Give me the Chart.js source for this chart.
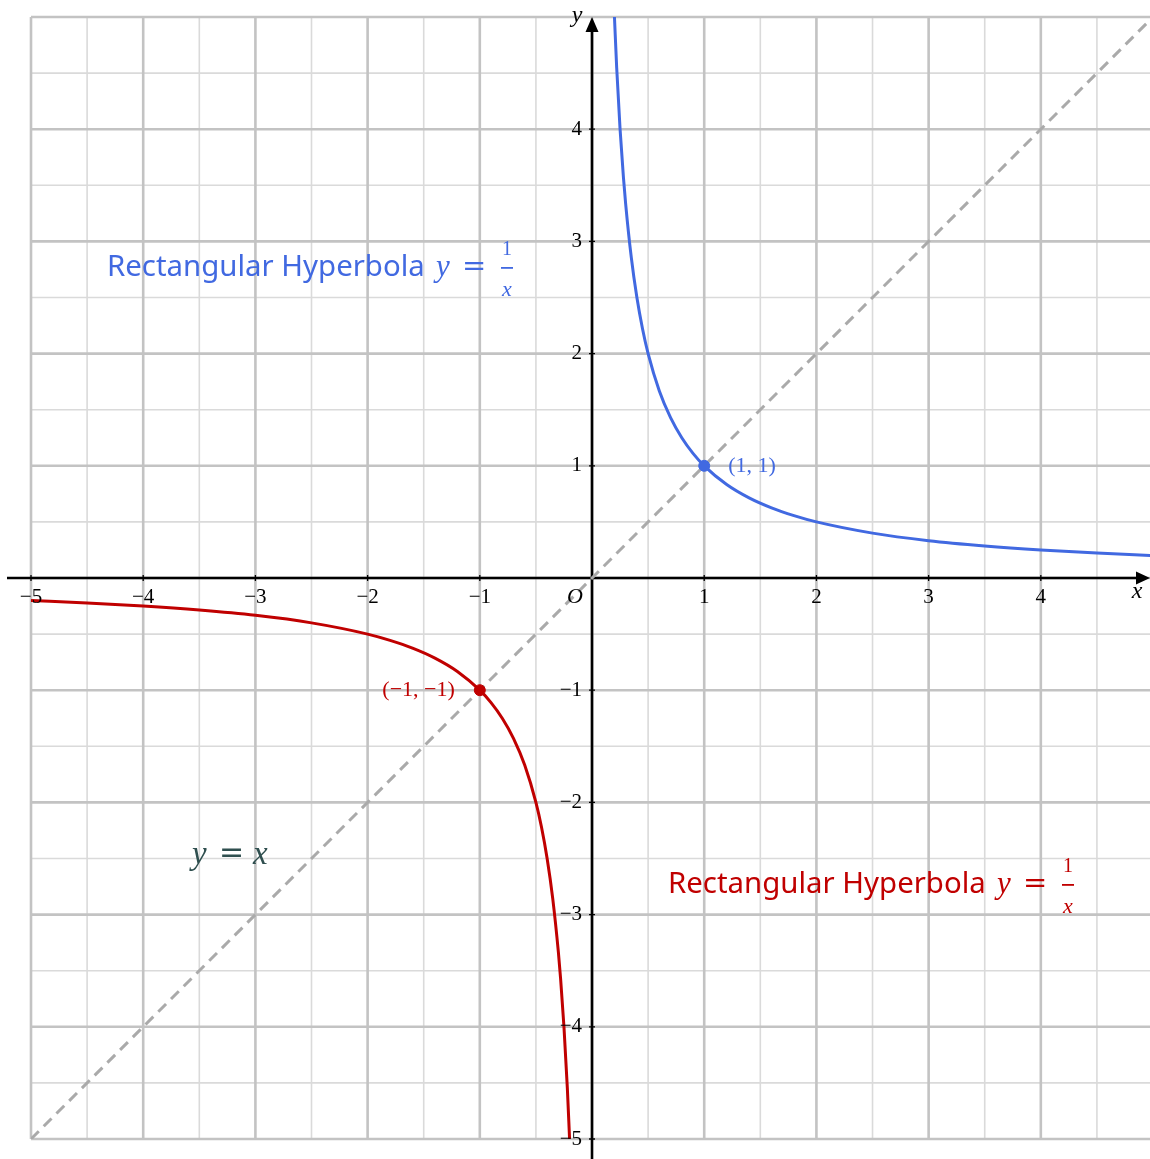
<!DOCTYPE html>
<html>
<head>
<meta charset="utf-8">
<script src="https://cdn.jsdelivr.net/npm/chart.js@4.4.1/dist/chart.umd.min.js"></script>
<style>
  html, body { margin: 0; padding: 0; background: #ffffff; overflow: hidden; }
  #wrap { width: 1150px; height: 1159px; }
  canvas { display: block; }
</style>
</head>
<body>
<div id="wrap"><canvas id="c" width="1150" height="1159"></canvas></div>
<script>
// Samples of y = 1/x on the positive branch
const posX = [0.2, 0.22, 0.25, 0.28, 0.3, 0.35, 0.4, 0.45, 0.5, 0.6, 0.7, 0.8, 0.9, 1, 1.2, 1.4, 1.6, 1.8, 2, 2.5, 3, 3.5, 4, 4.5, 5];
const posY = [5, 4.545, 4, 3.571, 3.333, 2.857, 2.5, 2.222, 2, 1.667, 1.429, 1.25, 1.111, 1, 0.833, 0.714, 0.625, 0.556, 0.5, 0.4, 0.333, 0.286, 0.25, 0.222, 0.2];
// Samples of y = 1/x on the negative branch
const negX = [-5, -4.5, -4, -3.5, -3, -2.5, -2, -1.8, -1.6, -1.4, -1.2, -1, -0.9, -0.8, -0.7, -0.6, -0.5, -0.45, -0.4, -0.35, -0.3, -0.28, -0.25, -0.22, -0.2];
const negY = [-0.2, -0.222, -0.25, -0.286, -0.333, -0.4, -0.5, -0.556, -0.625, -0.714, -0.833, -1, -1.111, -1.25, -1.429, -1.667, -2, -2.222, -2.5, -2.857, -3.333, -3.571, -4, -4.545, -5];
// Line of symmetry y = x
const diagX = [-5, 5];
const diagY = [-5, 5];
// Marked vertices
const vertexPos = [1, 1];
const vertexNeg = [-1, -1];

// Axis ticks
const xTicks = [-5, -4, -3, -2, -1, 1, 2, 3, 4];
const xTickLabels = ['\u22125', '\u22124', '\u22123', '\u22122', '\u22121', '1', '2', '3', '4'];
const yTicks = [-5, -4, -3, -2, -1, 1, 2, 3, 4];
const yTickLabels = ['\u22125', '\u22124', '\u22123', '\u22122', '\u22121', '1', '2', '3', '4'];

const X_MIN = -5, X_MAX = 4.973, Y_MIN = -5, Y_MAX = 5;

const BLUE = '#4169e1';
const RED = '#c00000';
const DIAG = '#aaaaaa';
const SLATE = '#2f4f4f';
const SERIF = '"Liberation Serif", "DejaVu Serif", serif';
const SANS = '"Noto Sans", "Open Sans", sans-serif';
const OPS = '"DejaVu Sans", sans-serif';

const zip = (xs, ys) => xs.map((x, i) => ({ x, y: ys[i] }));

// Grid: light minor lines every 0.5, heavier major lines at integers
const gridPlugin = {
  id: 'gridPlugin',
  beforeDatasetsDraw(chart) {
    const { ctx, chartArea: a, scales: { x, y } } = chart;
    ctx.save();
    const drawSet = (major) => {
      ctx.strokeStyle = major ? '#c3c3c3' : '#dadada';
      ctx.lineWidth = major ? 2.6 : 1.6;
      ctx.beginPath();
      for (let v = -10; v <= 10; v++) {
        const val = v / 2;
        if ((v % 2 === 0) !== major) continue;
        if (val >= X_MIN - 1e-6 && val <= X_MAX + 1e-6) {
          const px = x.getPixelForValue(val);
          ctx.moveTo(px, a.top); ctx.lineTo(px, a.bottom);
        }
        if (val >= Y_MIN - 1e-6 && val <= Y_MAX + 1e-6) {
          const py = y.getPixelForValue(val);
          ctx.moveTo(a.left, py); ctx.lineTo(a.right, py);
        }
      }
      ctx.stroke();
    };
    drawSet(false);
    drawSet(true);
    ctx.restore();
  }
};

// Axes through the origin, arrows, tick labels and annotations
const axesPlugin = {
  id: 'axesPlugin',
  beforeDatasetsDraw(chart) {
    const { ctx, scales: { x, y } } = chart;
    const ox = x.getPixelForValue(0), oy = y.getPixelForValue(0);
    const W = chart.width, H = chart.height;
    ctx.save();
    ctx.strokeStyle = '#000'; ctx.fillStyle = '#000';
    ctx.lineWidth = 2.6;
    ctx.beginPath();
    ctx.moveTo(7, oy); ctx.lineTo(W - 10, oy);
    ctx.moveTo(ox, H); ctx.lineTo(ox, y.getPixelForValue(Y_MAX) + 10);
    ctx.stroke();
    // arrowheads
    ctx.beginPath();
    ctx.moveTo(W, oy); ctx.lineTo(W - 14, oy - 6.5); ctx.lineTo(W - 14, oy + 6.5); ctx.closePath();
    const ty = y.getPixelForValue(Y_MAX);
    ctx.moveTo(ox, ty); ctx.lineTo(ox - 6.5, ty + 15); ctx.lineTo(ox + 6.5, ty + 15); ctx.closePath();
    ctx.fill();
    // tick marks
    ctx.lineWidth = 1.3;
    ctx.beginPath();
    xTicks.forEach(v => { const px = x.getPixelForValue(v); ctx.moveTo(px, oy - 3); ctx.lineTo(px, oy + 3); });
    yTicks.forEach(v => { const py = y.getPixelForValue(v); ctx.moveTo(ox - 3, py); ctx.lineTo(ox + 3, py); });
    ctx.stroke();
    ctx.restore();
  },
  afterDatasetsDraw(chart) {
    const { ctx, scales: { x, y } } = chart;
    const ox = x.getPixelForValue(0), oy = y.getPixelForValue(0);
    ctx.save();
    ctx.fillStyle = '#000';
    ctx.font = '21px ' + SERIF;
    ctx.textBaseline = 'middle';
    ctx.textAlign = 'center';
    xTicks.forEach((v, i) => ctx.fillText(xTickLabels[i], x.getPixelForValue(v), oy + 19));
    ctx.textAlign = 'right';
    yTicks.forEach((v, i) => ctx.fillText(yTickLabels[i], ox - 10, y.getPixelForValue(v)));
    ctx.font = 'italic 22px ' + SERIF;
    ctx.textAlign = 'center';
    ctx.fillText('O', ox - 17, oy + 19);
    ctx.font = 'italic 24px ' + SERIF;
    ctx.fillText('x', chart.width - 13, oy + 14);
    ctx.fillText('y', ox - 15, y.getPixelForValue(Y_MAX) - 1);

    // point labels
    ctx.font = '22px ' + SERIF;
    ctx.fillStyle = BLUE;
    ctx.textAlign = 'left';
    ctx.fillText('(1, 1)', x.getPixelForValue(vertexPos[0]) + 24, y.getPixelForValue(vertexPos[1]));
    ctx.fillStyle = RED;
    ctx.textAlign = 'right';
    ctx.fillText('(\u22121, \u22121)', x.getPixelForValue(vertexNeg[0]) - 25, y.getPixelForValue(vertexNeg[1]));

    // curve captions with a stacked fraction
    const caption = (left, cy, color) => {
      ctx.fillStyle = color;
      ctx.textAlign = 'left';
      ctx.textBaseline = 'middle';
      ctx.font = '29.4px ' + SANS;
      ctx.fillText('Rectangular Hyperbola', left, cy);
      ctx.font = 'italic 31px ' + SERIF;
      ctx.fillText('y', left + 329, cy);
      ctx.font = '29px ' + OPS;
      ctx.fillText('=', left + 355, cy - 1);
      const fx = left + 400;
      ctx.textAlign = 'center';
      ctx.font = '20px ' + SERIF;
      ctx.fillText('1', fx, cy - 18);
      ctx.font = 'italic 22px ' + SERIF;
      ctx.fillText('x', fx, cy + 22);
      ctx.fillRect(fx - 6, cy - 1, 12, 1.8);
    };
    caption(107, 268, BLUE);
    caption(668, 885, RED);

    ctx.fillStyle = SLATE;
    ctx.textAlign = 'left';
    ctx.font = 'italic 33px ' + SERIF;
    ctx.fillText('y', 192, 855);
    ctx.font = '30px ' + OPS;
    ctx.fillText('=', 219, 854);
    ctx.font = 'italic 33px ' + SERIF;
    ctx.fillText('x', 253, 855);
    ctx.restore();
  }
};

new Chart(document.getElementById('c'), {
  type: 'scatter',
  data: {
    datasets: [
      { data: zip(diagX, diagY), showLine: true, borderColor: DIAG, borderWidth: 3, borderDash: [11, 7], pointRadius: 0, order: 3 },
      { data: zip(posX, posY), showLine: true, borderColor: BLUE, borderWidth: 3, pointRadius: 0, cubicInterpolationMode: 'monotone', order: 2 },
      { data: zip(negX, negY), showLine: true, borderColor: RED, borderWidth: 3, pointRadius: 0, cubicInterpolationMode: 'monotone', order: 2 },
      { data: [{ x: vertexPos[0], y: vertexPos[1] }], pointRadius: 5.5, backgroundColor: BLUE, borderColor: BLUE, order: 1 },
      { data: [{ x: vertexNeg[0], y: vertexNeg[1] }], pointRadius: 5.5, backgroundColor: RED, borderColor: RED, order: 1 }
    ]
  },
  options: {
    responsive: false,
    animation: false,
    devicePixelRatio: 1,
    layout: { autoPadding: false, padding: { left: 31, top: 17, right: 0, bottom: 20 } },
    scales: {
      x: { type: 'linear', min: X_MIN, max: X_MAX, display: false },
      y: { type: 'linear', min: Y_MIN, max: Y_MAX, display: false }
    },
    plugins: { legend: { display: false }, tooltip: { enabled: false } }
  },
  plugins: [gridPlugin, axesPlugin]
});
</script>
</body>
</html>
